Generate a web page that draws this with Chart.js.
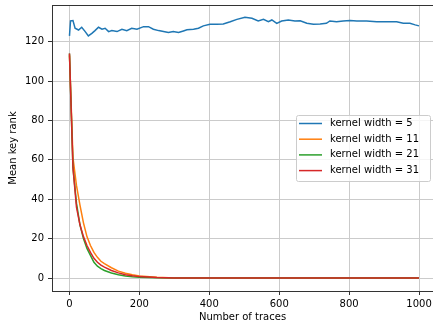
<!DOCTYPE html>
<html>
<head>
<meta charset="utf-8">
<script src="https://cdn.jsdelivr.net/npm/chart.js@4.4.0/dist/chart.umd.min.js"></script>
<style>
    html, body { margin: 0; padding: 0; background: #fff; overflow: hidden; }
    canvas { display: block; }
</style>
</head>
<body>
<canvas id="rankChart" width="433" height="327"></canvas>
<script>
// series labels
const seriesLabels = ['kernel width = 5', 'kernel width = 11', 'kernel width = 21', 'kernel width = 31'];

// kernel width 5 - noisy flat line
const blueX = [0, 3, 10, 16, 26, 35, 45, 54, 64, 73, 83, 93, 102, 112, 121, 136, 150, 164, 178, 193,
    212, 226, 240, 255, 269, 283, 297, 312, 326, 336, 355, 369, 383, 402, 421, 440, 460, 479, 502, 522,
    540, 555, 569, 579, 593, 607, 626, 645, 660, 679, 698, 717, 735, 745, 764, 783, 803, 822, 850, 879,
    908, 936, 955, 974, 989, 1000];
const blueY = [122.9, 130.5, 130.7, 126.8, 125.9, 127.3, 125.1, 122.9, 124.2, 125.6, 127.3, 126.3, 126.8, 125.1, 125.6, 125.1, 126.3, 125.6, 126.8, 126.3,
    127.6, 127.6, 126.3, 125.6, 125.1, 124.6, 125.1, 124.6, 125.4, 126.0, 126.3, 126.8, 128.0, 128.8, 128.8, 129.0, 130.1, 131.3, 132.4, 131.9,
    130.5, 131.3, 130.1, 131.0, 129.3, 130.5, 131.0, 130.5, 130.6, 129.3, 128.8, 129.0, 129.3, 130.5, 130.1, 130.5, 130.7, 130.5, 130.5, 130.1,
    130.1, 130.1, 129.3, 129.3, 128.5, 128.0];

// the three decaying curves share the same x values
const decayX = [0, 10, 20, 30, 40, 50, 60, 70, 80, 90, 100, 120, 140, 160, 180, 200, 250, 300, 400, 500, 600, 700, 800, 900, 1000];
const orangeY = [113, 61, 47, 37, 28, 21, 16.5, 13, 10.5, 8.5, 7.3, 5.2, 3.5, 2.4, 1.6, 1.0, 0.4, 0, 0, 0, 0, 0, 0, 0, 0];
const greenY = [114, 56, 38, 27, 20, 15, 11.5, 8, 6, 4.8, 3.8, 2.5, 1.6, 1.0, 0.6, 0.4, 0.1, 0, 0, 0, 0, 0, 0, 0, 0];
const redY = [114, 56, 36, 27, 21, 16.5, 13, 10, 8, 6.5, 5.5, 3.8, 2.6, 1.7, 1.1, 0.7, 0.2, 0, 0, 0, 0, 0, 0, 0, 0];

// tick values
const xTicks = [0, 200, 400, 600, 800, 1000];
const yTicks = [0, 20, 40, 60, 80, 100, 120];

const colors = ['#1f77b4', '#ff7f0e', '#2ca02c', '#d62728'];
const font = { family: 'DejaVu Sans', size: 10 };

const toPoints = (xs, ys) => xs.map((x, i) => ({ x: x, y: ys[i] }));

// chart.js paints low order on top, so later series get a lower order (like matplotlib)
const lineSet = (idx, pts) => ({
    label: seriesLabels[idx],
    data: pts,
    order: seriesLabels.length - idx,
    borderColor: colors[idx],
    backgroundColor: colors[idx],
    borderWidth: 1.5,
    pointRadius: 0,
    tension: 0,
    fill: false
});

// top spine + legend box like matplotlib
const framePlugin = {
    id: 'frame',
    afterDraw(chart) {
        const { ctx, chartArea } = chart;
        ctx.save();
        ctx.strokeStyle = '#333';
        ctx.lineWidth = 1;
        ctx.beginPath();
        ctx.moveTo(chartArea.left, chartArea.top + 0.5);
        ctx.lineTo(chartArea.right, chartArea.top + 0.5);
        ctx.stroke();

        // legend
        const lx = 296, ly = 115, lw = 134, lh = 66, row = 15.7;
        ctx.fillStyle = 'rgba(255,255,255,0.8)';
        ctx.strokeStyle = '#cccccc';
        ctx.beginPath();
        ctx.roundRect(lx + 0.5, ly + 0.5, lw, lh, 2);
        ctx.fill();
        ctx.stroke();

        ctx.font = '10px "DejaVu Sans"';
        ctx.textBaseline = 'middle';
        seriesLabels.forEach((label, i) => {
            const cy = ly + 8.5 + i * row;
            ctx.strokeStyle = colors[i];
            ctx.lineWidth = 1.5;
            ctx.beginPath();
            ctx.moveTo(lx + 3, cy);
            ctx.lineTo(lx + 26, cy);
            ctx.stroke();
            ctx.fillStyle = '#000';
            ctx.fillText(label, lx + 34, cy);
        });
        ctx.restore();
    }
};

const chart = new Chart(document.getElementById('rankChart'), {
    type: 'line',
    data: {
        datasets: [
            lineSet(0, toPoints(blueX, blueY)),
            lineSet(1, toPoints(decayX, orangeY)),
            lineSet(2, toPoints(decayX, greenY)),
            lineSet(3, toPoints(decayX, redY))
        ]
    },
    options: {
        responsive: false,
        animation: false,
        devicePixelRatio: 1,
        layout: { padding: { top: 5, right: 0, left: 0, bottom: 0 } },
        plugins: {
            legend: { display: false },
            tooltip: { enabled: false }
        },
        scales: {
            x: {
                type: 'linear',
                min: -50,
                max: 1040,
                afterBuildTicks: scale => { scale.ticks = xTicks.map(v => ({ value: v })); },
                afterFit: scale => {
                    scale.height = 36;
                    scale.paddingLeft = 0;
                    scale.paddingRight = 0;
                },
                ticks: { font: font, color: '#000', padding: 3, maxRotation: 0, callback: v => String(v) },
                grid: { color: '#cbcbcb', lineWidth: 1, tickLength: 4, tickColor: '#333' },
                border: { color: '#333', width: 1 },
                title: { display: true, text: 'Number of traces', font: font, color: '#000', padding: { top: 0, bottom: 4 } }
            },
            y: {
                type: 'linear',
                min: -6.6,
                max: 138.6,
                afterBuildTicks: scale => { scale.ticks = yTicks.map(v => ({ value: v })); },
                afterFit: scale => {
                    scale.width = 52;
                    scale.paddingTop = 0;
                    scale.paddingBottom = 0;
                },
                ticks: { font: font, color: '#000', padding: 4, callback: v => String(v) },
                grid: { color: '#cbcbcb', lineWidth: 1, tickLength: 4, tickColor: '#333' },
                border: { color: '#333', width: 1 },
                title: { display: true, text: 'Mean key rank', font: font, color: '#000', padding: { top: 7, bottom: 0 } }
            }
        }
    },
    plugins: [framePlugin]
});
</script>
</body>
</html>
